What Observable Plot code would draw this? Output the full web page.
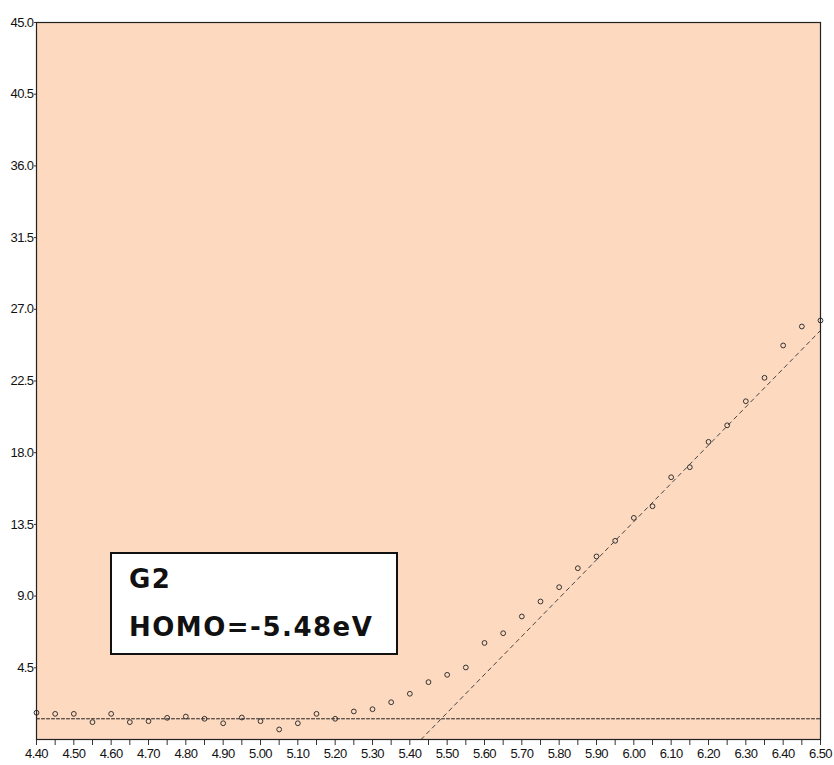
<!DOCTYPE html>
<html>
<head>
<meta charset="utf-8">
<script src="https://cdn.jsdelivr.net/npm/d3@7"></script>
<script src="https://cdn.jsdelivr.net/npm/@observablehq/plot@0.6"></script>
<style>
  html, body { margin: 0; padding: 0; background: #fff; }
  #wrap { position: relative; width: 834px; height: 765px; }
  #box {
    position: absolute; left: 110px; top: 552px; width: 284px; height: 99px;
    background: #fff; border: 2px solid #111;
    font-family: "DejaVu Sans", "Noto Sans", sans-serif; font-weight: bold;
    font-size: 26px; line-height: 1; color: #111; letter-spacing: 1.5px;
  }
  #box .l1 { position: absolute; left: 17px; top: 12px; white-space: nowrap; }
  #box .l2 { position: absolute; left: 17px; top: 60px; white-space: nowrap; }
</style>
</head>
<body>
<div id="wrap"></div>
<script>
// Photon energy (eV)
const energy = [4.40, 4.45, 4.50, 4.55, 4.60, 4.65, 4.70, 4.75, 4.80, 4.85,
                4.90, 4.95, 5.00, 5.05, 5.10, 5.15, 5.20, 5.25, 5.30, 5.35,
                5.40, 5.45, 5.50, 5.55, 5.60, 5.65, 5.70, 5.75, 5.80, 5.85,
                5.90, 5.95, 6.00, 6.05, 6.10, 6.15, 6.20, 6.25, 6.30, 6.35,
                6.40, 6.45, 6.50];
// Yield^(1/2) values
const yieldValue = [1.68, 1.61, 1.61, 1.09, 1.61, 1.09, 1.15, 1.36, 1.44, 1.30,
                    1.02, 1.38, 1.15, 0.63, 1.02, 1.61, 1.30, 1.76, 1.90, 2.34,
                    2.87, 3.60, 4.06, 4.52, 6.06, 6.67, 7.72, 8.66, 9.56, 10.75,
                    11.49, 12.47, 13.91, 14.64, 16.46, 17.09, 18.68, 19.72, 21.23, 22.70,
                    24.73, 25.92, 26.30];
// Background (baseline) level
const baseX = [4.40, 6.50];
const baseY = [1.30, 1.30];
// Linear fit of rising part
const fitX = [5.43, 6.50];
const fitY = [0.0, 25.67];
// Tick values
const yTicks = [4.5, 9.0, 13.5, 18.0, 22.5, 27.0, 31.5, 36.0, 40.5, 45.0];
const xMinorTicks = d3.range(0, 43).map(i => +(4.40 + i * 0.05).toFixed(2));
const xLabelTicks = [4.40, 4.50, 4.60, 4.70, 4.80, 4.90, 5.00, 5.10, 5.20, 5.30, 5.40,
                     5.50, 5.60, 5.70, 5.80, 5.90, 6.00, 6.10, 6.20, 6.30, 6.40, 6.50];
const labelLine1 = "G2";
const labelLine2 = "HOMO=-5.48eV";

const points = energy.map((e, i) => ({x: e, y: yieldValue[i]}));
const base = baseX.map((x, i) => ({x, y: baseY[i]}));
const fit = fitX.map((x, i) => ({x, y: fitY[i]}));

const chart = Plot.plot({
  width: 834,
  height: 765,
  marginLeft: 36,
  marginRight: 14,
  marginTop: 22,
  marginBottom: 26,
  style: {fontFamily: "'Liberation Sans Narrow', 'Liberation Sans', Arial, sans-serif", fontSize: "13px", letterSpacing: "-0.6px", color: "#111", background: "#fff"},
  x: {domain: [4.40, 6.50]},
  y: {domain: [0, 45]},
  marks: [
    Plot.frame({fill: "#FDD9BF", stroke: null}),
    Plot.line(base, {x: "x", y: "y", stroke: "#222", strokeWidth: 1, strokeDasharray: "3,2"}),
    Plot.line(fit, {x: "x", y: "y", stroke: "#444", strokeWidth: 1, strokeDasharray: "4,4"}),
    Plot.dot(points, {x: "x", y: "y", r: 2.4, stroke: "#333", strokeWidth: 1, fill: "none"}),
    Plot.axisY({ticks: yTicks, tickFormat: d => d.toFixed(1), tickSize: 2, tickPadding: 1, label: null, stroke: "#333"}),
    Plot.axisX({ticks: xMinorTicks, tickFormat: () => "", tickSize: 6, label: null, stroke: "#333"}),
    Plot.axisX({ticks: xLabelTicks, tickFormat: d => d.toFixed(2), tickSize: 0, tickPadding: 9, label: null}),
    Plot.frame({stroke: "#222", strokeWidth: 1.2})
  ]
});
document.getElementById("wrap").appendChild(chart);
const box = document.createElement("div");
box.id = "box";
box.innerHTML = `<span class="l1">${labelLine1}</span><span class="l2">${labelLine2}</span>`;
document.getElementById("wrap").appendChild(box);
</script>
</body>
</html>
